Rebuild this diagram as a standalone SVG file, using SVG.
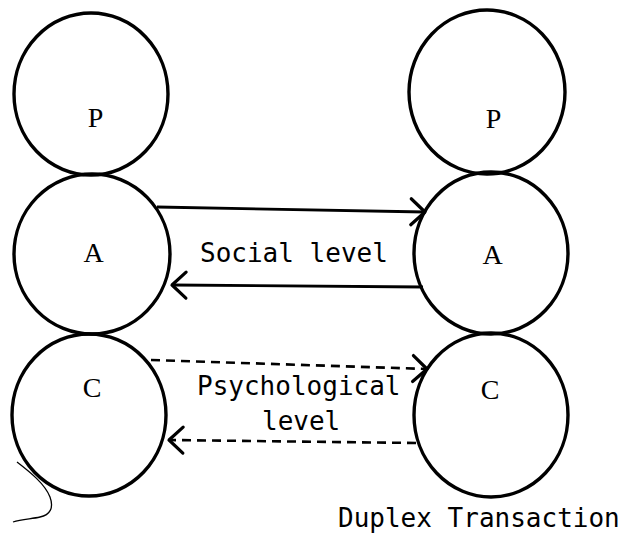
<svg xmlns="http://www.w3.org/2000/svg" width="625" height="537" viewBox="0 0 625 537">
  <style>
    .ring { fill: none; stroke: #000; stroke-width: 3.4; }
    .ego { font-family: "Liberation Serif", "DejaVu Serif", serif; font-size: 28px; fill: #000; text-anchor: middle; }
    .lbl { font-family: "DejaVu Sans Mono", "Liberation Mono", monospace; font-size: 26px; fill: #000; }
    .solid { fill: none; stroke: #000; stroke-width: 2.8; marker-end: url(#chev); }
    .dash { fill: none; stroke: #000; stroke-width: 2.6; stroke-dasharray: 9 6; marker-end: url(#chev); }
  </style>
  <defs>
    <marker id="chev" markerUnits="userSpaceOnUse" markerWidth="40" markerHeight="40" refX="0" refY="0" orient="auto" viewBox="-20 -20 40 40" overflow="visible">
      <path d="M-14,-13 L0,0 L-14,13" fill="none" stroke="#000" stroke-width="3.2" stroke-dasharray="none" stroke-linecap="round" stroke-linejoin="round"/>
    </marker>
  </defs>
  <rect width="625" height="537" fill="#fff"/>

  <g id="left-P">
    <ellipse class="ring" cx="91" cy="94" rx="77" ry="81"/>
    <text class="ego" x="95.5" y="127">P</text>
  </g>
  <g id="left-A">
    <ellipse class="ring" cx="92" cy="254" rx="78" ry="80"/>
    <text class="ego" x="93.5" y="262">A</text>
  </g>
  <g id="left-C">
    <ellipse class="ring" cx="89" cy="415" rx="77" ry="81"/>
    <text class="ego" x="92" y="397">C</text>
  </g>
  <g id="right-P">
    <ellipse class="ring" cx="487" cy="92" rx="78" ry="82"/>
    <text class="ego" x="493.5" y="128">P</text>
  </g>
  <g id="right-A">
    <ellipse class="ring" cx="491" cy="253" rx="77" ry="81"/>
    <text class="ego" x="492.5" y="264">A</text>
  </g>
  <g id="right-C">
    <ellipse class="ring" cx="491" cy="415" rx="77" ry="82"/>
    <text class="ego" x="490" y="399">C</text>
  </g>

  <g id="connectors">
    <path class="solid" d="M157,207 L425,212"/>
    <path class="solid" d="M423,287 L172,285"/>
    <path class="dash" d="M151,360 L427,369"/>
    <path class="dash" d="M416,443 L169,440"/>
  </g>

  <g id="labels">
    <text class="lbl" x="200" y="262">Social level</text>
    <text class="lbl" x="197" y="395">Psychological</text>
    <text class="lbl" x="262" y="430">level</text>
    <text class="lbl" x="338" y="527">Duplex Transaction</text>
  </g>

  <path d="M17,462 C30,472 45,484 50,497 C54,508 50,515 40,517 C32,519 22,519 13,522" fill="none" stroke="#000" stroke-width="1.3"/>
</svg>
